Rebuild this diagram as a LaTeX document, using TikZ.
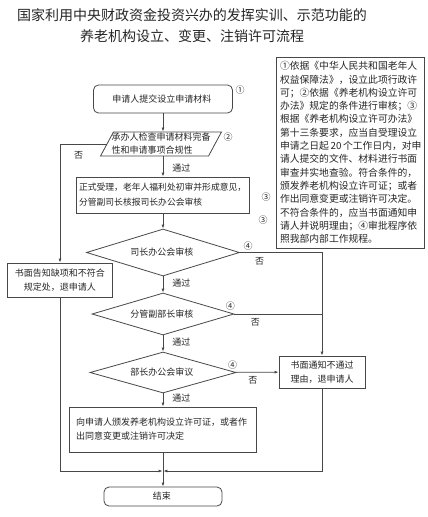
\documentclass[tikz,border=0pt]{standalone}
\usepackage{fontspec}
\setmainfont{Noto Sans CJK SC}
\usetikzlibrary{arrows.meta,shapes.geometric}
\definecolor{linegray}{RGB}{72,72,72}
\definecolor{textgray}{RGB}{38,38,38}
\tikzset{
  font=\fontsize{9}{14}\selectfont,
  >={Latex[length=4pt,width=3pt]},
  flow/.style={
    draw=linegray,
    line width=0.8pt,
    text=textgray,
    inner xsep=3pt,
    inner ysep=2pt
  },
  box/.style={flow,rectangle,align=center},
  textbox/.style={flow,rectangle,align=left},
  startstop/.style={flow,rounded corners=5pt,align=center},
  checkbox/.style={
    flow,
    trapezium,
    trapezium left angle=60,
    trapezium right angle=120,
    trapezium stretches=true,
    align=left,
    inner xsep=-4pt,
    inner ysep=0pt
  },
  decision/.style={flow,diamond,aspect=3,inner sep=0pt,align=center},
  arrow/.style={->,draw=linegray,line width=0.8pt},
  link/.style={draw=linegray,line width=0.8pt},
  branch/.style={text=textgray,inner sep=1pt},
  circnum/.style={text=textgray,inner sep=0pt}
}

\begin{document}
\begin{tikzpicture}[x=1pt,y=-1pt]

  \fill[white] (0,0) rectangle (428,517);
  \useasboundingbox (0,0) rectangle (428,517);

  \node[text=textgray,align=center,font=\fontsize{14}{21}\selectfont] (title) at (192,25.5) {
    国家利用中央财政资金投资兴办的发挥实训、示范功能的\\养老机构设立、变更、注销许可流程
  };

  \node[textbox,text width=140pt,inner xsep=4pt,minimum height=191pt,
        font=\fontsize{9.8}{13.3}\selectfont] (basis) at (350,152.5) {
    ①依据《中华人民共和国老年人\\
    权益保障法》，设立此项行政许\\
    可；②依据《养老机构设立许可\\
    办法》规定的条件进行审核；③\\
    根据《养老机构设立许可办法》\\
    第十三条要求，应当自受理设立\\
    申请之日起\,20\,个工作日内，对申\\
    请人提交的文件、材料进行书面\\
    审查并实地查验。符合条件的，\\
    颁发养老机构设立许可证；或者\\
    作出同意变更或注销许可决定。\\
    不符合条件的，应当书面通知申\\
    请人并说明理由；④审批程序依\\
    照我部内部工作规程。
  };

  \node[startstop,minimum width=139pt,minimum height=28pt] (apply) at (163,99) {
    申请人提交设立申请材料
  };
  \node[circnum] (n1) at (240,90) {①};

  \node[checkbox,minimum width=121pt,minimum height=24pt,
        font=\fontsize{9}{13}\selectfont] (check) at (161,144) {
    承办人检查申请材料完备\\性和申请事项合规性
  };
  \node[circnum] (n2) at (228,137) {②};

  \node[textbox,text width=168pt,inner xsep=2.5pt,minimum height=36pt,
        font=\fontsize{8.8}{15}\selectfont] (accept) at (163,195) {
    正式受理，老年人福利处初审并形成意见，\\分管副司长核报司长办公会审核
  };
  \node[circnum] (n3a) at (266,197) {③};
  \node[circnum] (n3b) at (263,220) {③};

  \node[decision,minimum width=153pt,minimum height=47pt] (office) at (163,252.5) {
    司长办公会审核
  };
  \node[decision,minimum width=142pt,minimum height=42pt] (deputy) at (163,314) {
    分管副部长审核
  };
  \node[decision,minimum width=146pt,minimum height=41pt] (minister) at (163,372.5) {
    部长办公会审议
  };

  \node[textbox,text width=174pt,inner xsep=6.5pt,minimum height=45pt] (grant) at (163,429.5) {
    向申请人颁发养老机构设立许可证，或者作\\出同意变更或注销许可决定
  };

  \node[startstop,minimum width=118pt,minimum height=19pt,inner ysep=0pt] (finish) at (163,496.5) {
    结束
  };

  \node[box,minimum width=105pt,minimum height=34pt] (notify) at (60,280) {
    书面告知缺项和不符合\\规定处，退申请人
  };

  \node[box,minimum width=86pt,minimum height=32pt] (refuse) at (322,372) {
    书面通知不通过\\理由，退申请人
  };

  \coordinate (merge) at (163,471);

  \draw[arrow] (apply) -- (apply |- check.north);
  \draw[arrow] (check.south -| accept) -- node[branch,right=8pt,pos=0.6] {通过} (accept);
  \draw[arrow] (accept) -- (office);
  \draw[arrow] (office) -- node[branch,right=8pt,pos=0.4] {通过} (deputy);
  \draw[arrow] (deputy) -- node[branch,right=8pt,pos=0.4] {通过} (minister);
  \draw[arrow] (minister) -- node[branch,right=8pt,pos=0.35] {通过} (grant);
  \draw[arrow] (grant) -- (finish);

  \draw[arrow] (check.west) -| node[branch,below=6pt,pos=0.3] {否} (notify.north);

  \draw[arrow] (office.east) -| node[branch,above=1pt,pos=0.05] {④}
    node[branch,below=4pt,pos=0.12] {否} (refuse.north);
  \draw[link] (deputy.east) -- node[branch,above=2pt,pos=0,xshift=-4pt] {④}
    node[branch,below=3pt,pos=0.24] {否} (deputy.east -| refuse.north);
  \draw[arrow] (minister) -- node[branch,above=2pt,pos=0,xshift=-3pt] {④}
    node[branch,below=3pt,pos=0.4] {否} (refuse);

  \draw[arrow,shorten >=0.4pt] (notify.south) |- (merge);
  \draw[arrow,shorten >=0.4pt] (refuse.south) |- (merge);

\end{tikzpicture}
\end{document}
